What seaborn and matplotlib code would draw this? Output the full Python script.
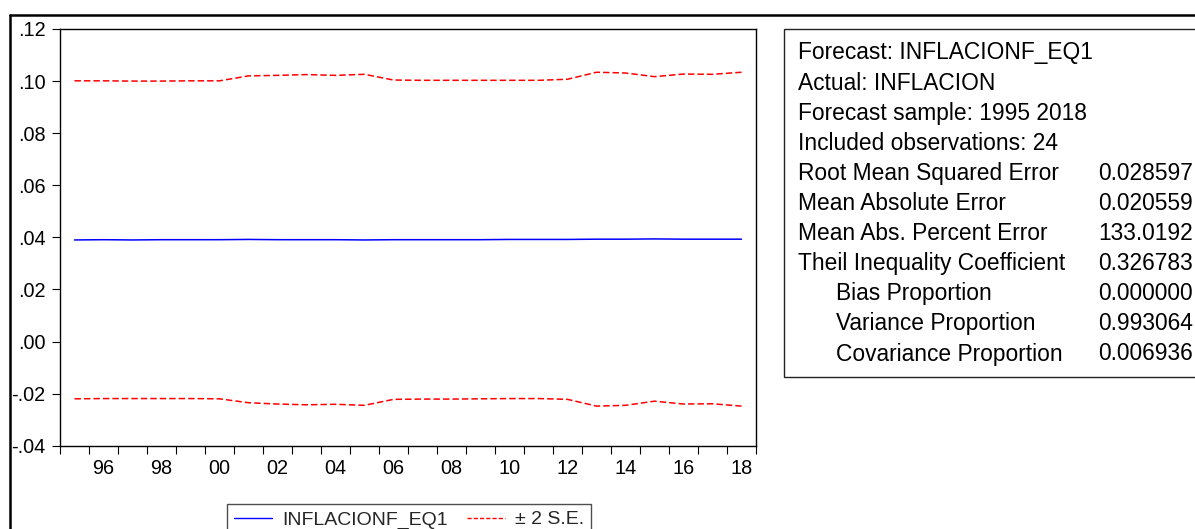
import matplotlib
matplotlib.use("Agg")
import matplotlib.pyplot as plt
import seaborn as sns
import pandas as pd
from matplotlib.lines import Line2D
from matplotlib.patches import Rectangle
from matplotlib.ticker import FixedLocator, FixedFormatter, NullFormatter

# Forecast of inflation with a +/- 2 standard error band
years = list(range(1995, 2019))
forecast = [0.0390, 0.0391, 0.0390, 0.0391, 0.0391, 0.0391, 0.0392, 0.0391,
            0.0391, 0.0391, 0.0390, 0.0391, 0.0391, 0.0391, 0.0391, 0.0392,
            0.0392, 0.0392, 0.0393, 0.0393, 0.0394, 0.0393, 0.0393, 0.0393]
upper = [0.1001, 0.1001, 0.1000, 0.1000, 0.1001, 0.1001, 0.1020, 0.1022,
         0.1025, 0.1022, 0.1026, 0.1004, 0.1003, 0.1003, 0.1003, 0.1003,
         0.1003, 0.1007, 0.1034, 0.1031, 0.1017, 0.1027, 0.1026, 0.1034]
lower = [-0.0220, -0.0219, -0.0219, -0.0219, -0.0219, -0.0220, -0.0235, -0.0240,
         -0.0243, -0.0241, -0.0245, -0.0222, -0.0221, -0.0221, -0.0220, -0.0219,
         -0.0219, -0.0222, -0.0248, -0.0245, -0.0229, -0.0240, -0.0239, -0.0248]

y_ticks = [-0.04, -0.02, 0.00, 0.02, 0.04, 0.06, 0.08, 0.10, 0.12]
y_tick_labels = ["-.04", "-.02", ".00", ".02", ".04", ".06", ".08", ".10", ".12"]
x_label_years = [1996, 1998, 2000, 2002, 2004, 2006, 2008, 2010, 2012, 2014, 2016, 2018]
x_tick_labels = ["96", "98", "00", "02", "04", "06", "08", "10", "12", "14", "16", "18"]

series_names = ["INFLACIONF_EQ1", "± 2 S.E."]

header_lines = ["Forecast: INFLACIONF_EQ1", "Actual: INFLACION",
                "Forecast sample: 1995 2018", "Included observations: 24"]
stat_labels = ["Root Mean Squared Error", "Mean Absolute Error",
               "Mean Abs. Percent Error", "Theil Inequality Coefficient"]
stat_values = ["0.028597", "0.020559", "133.0192", "0.326783"]
prop_labels = ["Bias Proportion", "Variance Proportion", "Covariance Proportion"]
prop_values = ["0.000000", "0.993064", "0.006936"]

sns.set_style("white")
plt.rcParams["font.family"] = ["Liberation Sans", "DejaVu Sans"]

W, H = 1195, 529
fig = plt.figure(figsize=(W / 100, H / 100), dpi=100)
fig.patch.set_facecolor("white")


def fx(px):
    return px / W


def fy(py):
    return 1 - py / H


# outer window frame (top and left edges)
fig.add_artist(Line2D([fx(10), fx(1200)], [fy(14.5), fy(14.5)], color="black", lw=1.8))
fig.add_artist(Line2D([fx(10), fx(10)], [fy(14.5), fy(540)], color="black", lw=1.8))

ax = fig.add_axes([fx(60), fy(445.7), fx(756) - fx(60), fy(29) - fy(445.7)])

df = pd.DataFrame({"year": years, "forecast": forecast, "upper": upper, "lower": lower})
sns.lineplot(data=df, x="year", y="forecast", ax=ax, color="#0000ff", lw=1.1)
sns.lineplot(data=df, x="year", y="upper", ax=ax, color="#ff0000", lw=1.1)
sns.lineplot(data=df, x="year", y="lower", ax=ax, color="#ff0000", lw=1.1)
for ln in ax.lines[1:]:
    ln.set_dashes([4.2, 2.0])

ax.set_xlim(1994.5, 2018.5)
ax.set_ylim(-0.04, 0.12)
ax.set_xlabel("")
ax.set_ylabel("")

ax.yaxis.set_major_locator(FixedLocator(y_ticks))
ax.yaxis.set_major_formatter(FixedFormatter(y_tick_labels))
ax.xaxis.set_major_locator(FixedLocator([y + 0.5 for y in range(1994, 2019)]))
ax.xaxis.set_major_formatter(NullFormatter())
ax.xaxis.set_minor_locator(FixedLocator(x_label_years))
ax.xaxis.set_minor_formatter(FixedFormatter(x_tick_labels))

ax.tick_params(axis="both", which="major", direction="out", length=5.5, width=0.8,
               color="black", labelsize=14.3, labelcolor="black")
ax.tick_params(axis="y", which="major", pad=5)
ax.tick_params(axis="x", which="minor", length=0, pad=9.5, labelsize=14.3, labelcolor="black")
ax.tick_params(bottom=True, left=True, which="major")

for side in ["top", "right", "bottom", "left"]:
    ax.spines[side].set_visible(True)
    ax.spines[side].set_color("black")
    ax.spines[side].set_linewidth(1.0)

# legend beneath the plot
handles = [Line2D([], [], color="#0000ff", lw=1.0),
           Line2D([], [], color="#ff0000", lw=1.0, dashes=[3.0, 1.5])]
leg = fig.legend(handles, series_names, loc="upper left",
                 bbox_to_anchor=(fx(227), fy(504)), ncol=2, frameon=True,
                 fancybox=False, edgecolor="#222222", fontsize=14,
                 handlelength=1.96, handletextpad=0.52, columnspacing=0.98,
                 borderpad=0.35, borderaxespad=0.0)
leg.get_frame().set_linewidth(1.0)

# forecast evaluation table
fig.add_artist(Rectangle((fx(784), fy(377)), fx(1300) - fx(784), fy(29) - fy(377),
                         transform=fig.transFigure, facecolor="white",
                         edgecolor="#222222", lw=1.0))

row_step = 30.1
base0 = 59.5
fs = 16.4
rows = []
for t in header_lines:
    rows.append((798, t, None))
for t, v in zip(stat_labels, stat_values):
    rows.append((798, t, v))
for t, v in zip(prop_labels, prop_values):
    rows.append((836, t, v))

for k, (xl, label, value) in enumerate(rows):
    yb = base0 + row_step * k
    fig.text(fx(xl), fy(yb), label, fontsize=fs, va="baseline", ha="left", color="black")
    if value is not None:
        fig.text(fx(1193), fy(yb), value, fontsize=fs, va="baseline", ha="right", color="black")

fig.savefig("out.png", dpi=100)
